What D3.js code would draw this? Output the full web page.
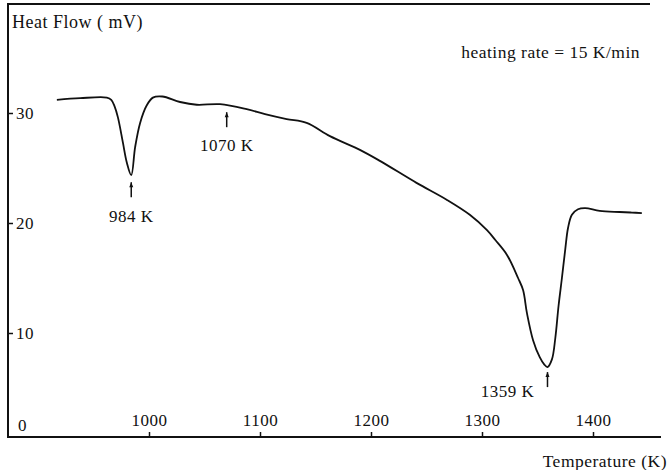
<!DOCTYPE html>
<html>
<head>
<meta charset="utf-8">
<script src="https://d3js.org/d3.v7.min.js"></script>
<style>
	body {
		padding: 0;
		margin: 0;
		background: #fff;
	}
	text {
		font-family: "Liberation Serif", "DejaVu Serif", serif;
		fill: #111;
		letter-spacing: 0.5px;
	}
	.frame {
		stroke: #111;
		stroke-width: 2;
		fill: none;
	}
	.curve {
		fill: none;
		stroke: #111;
		stroke-width: 1.8;
	}
	.arrow {
		stroke: #111;
		stroke-width: 1.5;
	}
</style>
</head>
<body>
<div id="content"></div>
<script>

// Temperature (K) and heat flow (mV)
var temps = [917, 938, 962, 966, 969, 972, 976.5, 980, 984, 987.5, 992, 998, 1003.5, 1012,
	1028, 1043, 1064, 1088, 1104.5, 1124, 1142, 1163, 1190, 1208, 1241, 1268.5, 1289,
	1304.5, 1312, 1322.5, 1332.5, 1337, 1340.5, 1346, 1352, 1356, 1359, 1363, 1366,
	1369, 1372, 1375, 1377.5, 1381, 1386.5, 1393, 1406, 1424, 1435, 1444];
var heatFlow = [31.2, 31.35, 31.4, 31.2, 30.6, 29.6, 27.3, 25.5, 24.35, 26.9, 29.1, 30.7, 31.4, 31.5,
	31.0, 30.75, 30.8, 30.35, 29.9, 29.45, 29.1, 27.9, 26.65, 25.65, 23.65, 22.1, 20.75,
	19.35, 18.45, 17.1, 15.0, 13.9, 11.8, 9.35, 7.8, 7.15, 6.9, 7.6, 9.5,
	12.5, 15.0, 17.6, 19.55, 20.75, 21.25, 21.35, 21.1, 21.0, 20.95, 20.9];

var xTicks = [1000, 1100, 1200, 1300, 1400];
var yTicks = [0, 10, 20, 30];

// marked peaks
var peakTemps = [984, 1070, 1359];
var peakLabels = ['984 K', '1070 K', '1359 K'];

var w = 668, h = 470;

var svg = d3.select('#content')
	.append('svg')
	.attr('width', w)
	.attr('height', h);

var x = d3.scaleLinear().domain([1000, 1400]).range([149, 593]);
var y = d3.scaleLinear().domain([0, 40]).range([443, 3]);

// frame: top, left, bottom
svg.append('path')
	.attr('class', 'frame')
	.attr('d', 'M650,4 L8,4 L8,437 L661,437');

// x axis, ticks pointing up with labels inside the frame
var xAxis = svg.append('g')
	.attr('transform', 'translate(0,437)')
	.call(d3.axisTop(x).tickValues(xTicks).tickSize(5).tickPadding(6).tickFormat(d3.format('d')));
xAxis.select('.domain').remove();
xAxis.selectAll('line').attr('stroke', '#111').attr('stroke-width', 1.5);
xAxis.selectAll('text')
	.style('font-family', '"Liberation Serif", serif')
	.style('font-size', '17px')
	.attr('fill', '#111');

// y axis along the left edge
var yAxis = svg.append('g')
	.attr('transform', 'translate(8,0)')
	.call(d3.axisRight(y).tickValues(yTicks).tickSize(5).tickPadding(3));
yAxis.select('.domain').remove();
yAxis.selectAll('line').attr('stroke', '#111').attr('stroke-width', 1.5);
yAxis.selectAll('text')
	.style('font-family', '"Liberation Serif", serif')
	.style('font-size', '17px')
	.attr('fill', '#111');
// the zero sits in the corner, a little above the axis line
yAxis.selectAll('.tick').filter(function(d) { return d === 0; })
	.each(function() {
		d3.select(this).select('line').remove();
		d3.select(this).select('text').attr('x', 10).attr('dy', '-0.75em');
	});

// the trace
var pts = temps.map(function(t, i) { return [t, heatFlow[i]]; });
var line = d3.line()
	.x(function(d) { return x(d[0]); })
	.y(function(d) { return y(d[1]); })
	.curve(d3.curveCatmullRom.alpha(0.5));
svg.append('path')
	.attr('class', 'curve')
	.attr('d', line(pts));

// peak arrows and labels
var arrowTop = [y(24.35) + 7, y(30.8) + 8, y(6.9) + 5];
var labelDx = [0, 0, -40];
var labelBase = [222, 151, 397];
peakTemps.forEach(function(t, i) {
	var ax = x(t);
	svg.append('line')
		.attr('class', 'arrow')
		.attr('x1', ax).attr('x2', ax)
		.attr('y1', arrowTop[i]).attr('y2', arrowTop[i] + 15);
	svg.append('path')
		.attr('d', 'M' + (ax - 2) + ',' + (arrowTop[i] + 5) + ' L' + ax + ',' + arrowTop[i] + ' L' + (ax + 2) + ',' + (arrowTop[i] + 5) + 'Z')
		.attr('fill', '#111');
	svg.append('text')
		.attr('x', ax + labelDx[i])
		.attr('y', labelBase[i])
		.attr('text-anchor', 'middle')
		.style('font-size', '17px')
		.text(peakLabels[i]);
});

// titles and notes
svg.append('text')
	.attr('x', 12).attr('y', 28)
	.style('font-size', '18px')
	.text('Heat Flow ( mV)');

svg.append('text')
	.attr('x', 640).attr('y', 58)
	.attr('text-anchor', 'end')
	.style('font-size', '17.5px')
	.text('heating rate = 15 K/min');

svg.append('text')
	.attr('x', 667).attr('y', 467)
	.attr('text-anchor', 'end')
	.style('font-size', '17.5px')
	.text('Temperature (K)');

</script>
</body>
</html>
